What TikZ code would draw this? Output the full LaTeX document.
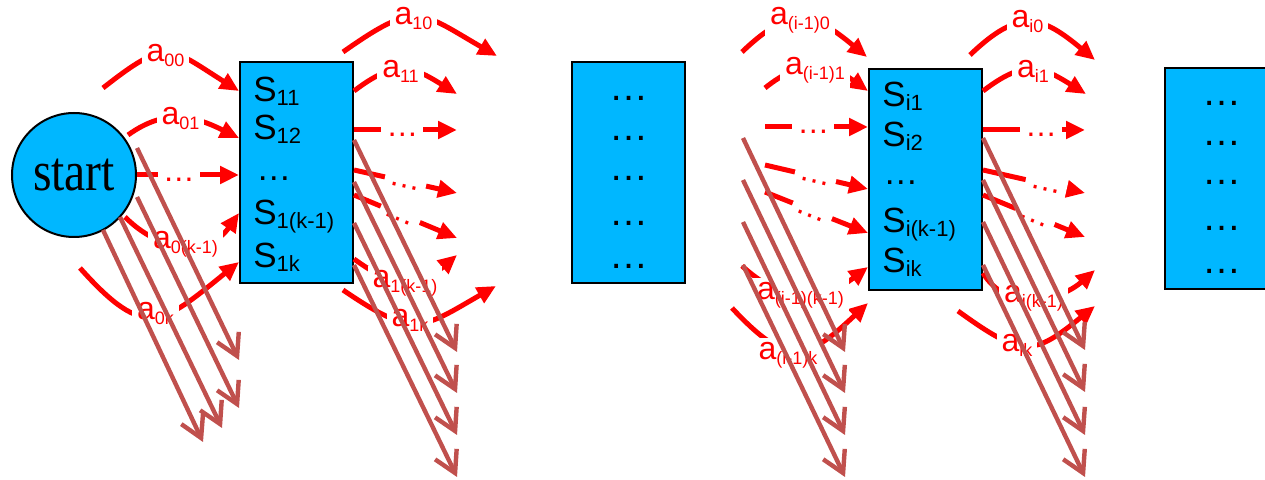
\documentclass[tikz,border=0pt]{standalone}
\usepackage{fontspec}
\setmainfont{Liberation Sans}
\newfontfamily\startfont{Liberation Serif}
\usetikzlibrary{arrows.meta}
\definecolor{boxcyan}{RGB}{0,183,255}
\definecolor{maroonline}{RGB}{192,80,77}
\definecolor{arcred}{RGB}{255,0,0}
\newcommand\bsub[1]{\raisebox{-2pt}{\fontsize{11pt}{12pt}\selectfont #1}}
\newcommand\lsub[1]{\raisebox{-2.5pt}{\fontsize{9pt}{10pt}\selectfont #1}}
\newcommand\redcurve[5]{\coordinate (#1s) at #2; \coordinate (#1e) at #5; \draw[redarrow] (#1s) .. controls #3 and #4 .. (#1e);}
\newcommand\redstraight[4]{\coordinate (#1s) at #2; \coordinate (#1e) at #3; \draw[redarrow] (#1s) -- node[dotlabel,pos=#4] (#1d) {…} (#1e);}
\newcommand\maroonray[3]{\coordinate (#1s) at #2; \coordinate (#1e) at #3; \draw[maroonarrow] (#1s) -- (#1e);}
\begin{document}
\begin{tikzpicture}[x=0.5pt,y=-0.5pt,
  statebox/.style={draw=black,line width=1pt,fill=boxcyan,minimum width=56.5pt,minimum height=110.5pt,inner sep=0pt},
  startnode/.style={circle,draw=black,line width=1pt,fill=boxcyan,minimum size=62pt,inner sep=0pt},
  boxtext/.style={anchor=base west,inner sep=0pt,font=\fontsize{17.5pt}{20pt}\selectfont},
  dotstext/.style={anchor=base,inner sep=0pt,font=\fontsize{19.5pt}{22pt}\selectfont},
  redarrow/.style={draw=arcred,line width=2.5pt,-{Triangle[length=9.5pt,width=8.5pt]}},
  redlabel/.style={fill=white,text=arcred,inner sep=2.5pt,font=\fontsize{16pt}{18pt}\selectfont},
  dotlabel/.style={redlabel,sloped,text height=7pt,text depth=0pt},
  maroonarrow/.style={draw=maroonline,line width=2.2pt,-{Straight Barb[length=10.5pt,width=12pt]}},
]
\useasboundingbox (0,0) rectangle (1265,480);
\clip (0,0) rectangle (1265,480);

% ---- nodes ----
\node[startnode] (start) at (74,175) {\scalebox{0.85}[1]{\startfont\fontsize{28pt}{30pt}\selectfont start}};
\node[statebox] (b1) at (296.5,172.5) {};
\node[statebox] (b2) at (628.5,172.5) {};
\node[statebox] (b3) at (925.5,179.5) {};
\node[statebox] (b4) at (1221.5,179) {};

\node[boxtext] (t11) at (253,102) {S\bsub{11}};
\node[boxtext] (t12) at (253,140) {S\bsub{12}};
\node[boxtext] (t1d) at (256,181) {…};
\node[boxtext] (t1km) at (253,225) {S\bsub{1(k-1)}};
\node[boxtext] (t1k) at (253,268) {S\bsub{1k}};

\node[boxtext] (ti1) at (882,107) {S\bsub{i1}};
\node[boxtext] (ti2) at (882,147) {S\bsub{i2}};
\node[boxtext] (tid) at (883,185) {…};
\node[boxtext] (tikm) at (882,233) {S\bsub{i(k-1)}};
\node[boxtext] (tik) at (882,273) {S\bsub{ik}};

\node[dotstext] (d21) at (629,101) {…};
\node[dotstext] (d22) at (629,141) {…};
\node[dotstext] (d23) at (629,181) {…};
\node[dotstext] (d24) at (629,226) {…};
\node[dotstext] (d25) at (629,269) {…};

\node[dotstext] (d41) at (1222,106) {…};
\node[dotstext] (d42) at (1222,146) {…};
\node[dotstext] (d43) at (1222,185) {…};
\node[dotstext] (d44) at (1222,231) {…};
\node[dotstext] (d45) at (1222,274) {…};

% ---- red transitions: start -> box 1 ----
\redcurve{A0}{(103,88)}{(168,37)}{(169,47)}{(239,91)}
\redcurve{A1}{(128,135)}{(167,107)}{(196,117)}{(239,138)}
\redstraight{A2}{(137,175)}{(239,175)}{0.41}
\redcurve{A3}{(125,217)}{(162,254)}{(209,256)}{(239,213)}
\redcurve{A4}{(80,268)}{(146,342)}{(162,324)}{(239,262)}

% ---- red transitions: box 1 -> ----
\redcurve{B0}{(343,52)}{(417,0)}{(419,11)}{(497,56)}
\redcurve{B1}{(354,91)}{(396,59)}{(412,66)}{(457,94)}
\redstraight{B2}{(354,130)}{(457,130)}{0.47}
\redstraight{B3}{(354,170)}{(457,193)}{0.5}
\redstraight{B4}{(354,195)}{(457,238)}{0.45}
\redcurve{B5}{(354,259)}{(399,291)}{(415,291)}{(457,255)}
\redcurve{B6}{(343,290)}{(415,339)}{(421,329)}{(496,286)}

% ---- red transitions: -> box 3 ----
\redcurve{C0}{(742,52)}{(792,4)}{(814,13)}{(867,57)}
\redcurve{C1}{(765,88)}{(802,58)}{(829,63)}{(868,91)}
\redstraight{C2}{(765,127)}{(868,127)}{0.47}
\redstraight{C3}{(765,165)}{(868,189)}{0.49}
\redstraight{C4}{(765,192)}{(868,233)}{0.46}
\redcurve{C5}{(742,266)}{(787,306)}{(820,303)}{(868,267)}
\redcurve{C6}{(732,308)}{(789,369)}{(807,360)}{(868,303)}

% ---- red transitions: box 3 -> ----
\redcurve{D0}{(970,55)}{(1020,7)}{(1042,16)}{(1095,60)}
\redcurve{D1}{(983,91)}{(1025,59)}{(1041,66)}{(1086,94)}
\redstraight{D2}{(983,130)}{(1085,130)}{0.57}
\redstraight{D3}{(983,170)}{(1085,193)}{0.62}
\redstraight{D4}{(983,195)}{(1085,237)}{0.51}
\redcurve{D5}{(983,273)}{(1007,313)}{(1060,301)}{(1095,270)}
\redcurve{D6}{(958,311)}{(1023,358)}{(1033,356)}{(1095,306)}

% ---- labels ----
\node[redlabel,anchor=base] (la00) at (165.5,62) {a\lsub{00}};
\node[redlabel,anchor=base] (la01) at (180.5,125) {a\lsub{01}};
\node[redlabel,anchor=base] (la0km) at (185.5,249) {a\lsub{0(k-1)}};
\node[redlabel,anchor=base] (la0k) at (155.5,320) {a\lsub{0k}};
\node[redlabel,anchor=base] (la10) at (413.5,25) {a\lsub{10}};
\node[redlabel,anchor=base] (la11) at (400.5,78) {a\lsub{11}};
\node[redlabel,anchor=base] (la1km) at (405,288) {a\lsub{1(k-1)}};
\node[redlabel,anchor=base] (la1k) at (410,327) {a\lsub{1k}};
\node[redlabel,anchor=base] (lci0) at (800,25) {a\lsub{(i-1)0}};
\node[redlabel,anchor=base] (lci1) at (815,75) {a\lsub{(i-1)1}};
\node[redlabel,anchor=base] (lcikm) at (800.5,300) {a\lsub{(i-1)(k-1)}};
\node[redlabel,anchor=base] (lcik) at (788,360) {a\lsub{(i-1)k}};
\node[redlabel,anchor=base] (ldi0) at (1027.5,28) {a\lsub{i0}};
\node[redlabel,anchor=base] (ldi1) at (1033,78) {a\lsub{i1}};
\node[redlabel,anchor=base] (ldikm) at (1033.5,303) {a\lsub{i(k-1)}};
\node[redlabel,anchor=base] (ldik) at (1017,352) {a\lsub{ik}};

% ---- maroon rays ----
\maroonray{M11}{(137,148)}{(239,360)}
\maroonray{M12}{(137,197)}{(239,408)}
\maroonray{M13}{(120,217)}{(222,428)}
\maroonray{M14}{(103,230)}{(203,442)}
\maroonray{M21}{(354,140)}{(457,352)}
\maroonray{M22}{(354,182)}{(457,393)}
\maroonray{M23}{(354,223)}{(457,435)}
\maroonray{M24}{(354,265)}{(457,477)}
\maroonray{M31}{(743,138)}{(845,352)}
\maroonray{M32}{(743,180)}{(845,393)}
\maroonray{M33}{(743,222)}{(845,435)}
\maroonray{M34}{(743,265)}{(845,477)}
\maroonray{M41}{(983,138)}{(1085,350)}
\maroonray{M42}{(983,180)}{(1085,392)}
\maroonray{M43}{(983,222)}{(1085,435)}
\maroonray{M44}{(983,265)}{(1085,477)}
\end{tikzpicture}
\end{document}
